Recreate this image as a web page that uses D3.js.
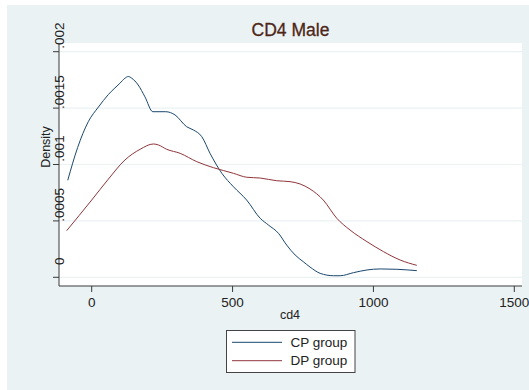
<!DOCTYPE html>
<html>
<head>
<meta charset="utf-8">
<script src="https://cdn.jsdelivr.net/npm/d3@7"></script>
<style>
  body { margin: 0; background: #fff; }
  svg text { font-family: Arial, "Liberation Sans", sans-serif; }
</style>
</head>
<body>
<div id="chart"></div>
<script>
// CD4 density
var cd4Cp = [-85, -50, -12, 24, 59, 100, 118, 130, 142, 165, 189, 217, 263, 296, 337, 361, 391, 420, 462, 503, 550, 598, 627, 663, 692, 722, 751, 775, 811, 858, 882, 929, 977, 1024, 1083, 1154];
var densCp = [0.00086, 0.00115, 0.00138, 0.00151, 0.00162, 0.00172, 0.001765, 0.00178, 0.001765, 0.001705, 0.0016, 0.001468, 0.001468, 0.001439, 0.001335, 0.001306, 0.001246, 0.001099, 0.000922, 0.000803, 0.000685, 0.000523, 0.000464, 0.00039, 0.000286, 0.000198, 0.000138, 0.000091, 0.000035, 0.000014, 0.000014, 0.000041, 0.000065, 0.000074, 0.000071, 0.000059];

var cd4Dp = [-89, 0, 59, 118, 172, 219, 237, 266, 314, 373, 432, 503, 550, 598, 657, 704, 740, 775, 822, 870, 917, 977, 1036, 1095, 1154];
var densDp = [0.000413, 0.000685, 0.00087, 0.00104, 0.001135, 0.001182, 0.001173, 0.001135, 0.001099, 0.001025, 0.000972, 0.000922, 0.000887, 0.00088, 0.000856, 0.000848, 0.000827, 0.000783, 0.000685, 0.000523, 0.000419, 0.000316, 0.000227, 0.000153, 0.000106];

var xTicks = [0, 500, 1000, 1500];
var yTicks = [0, 0.0005, 0.001, 0.0015, 0.002];
var yTickLabels = ["0", ".0005", ".001", ".0015", ".002"];
var seriesNames = ["CP group", "DP group"];

var width = 529, height = 390;
var colors = ["#1a476f", "#90353b"];

var svg = d3.select("#chart").append("svg")
    .attr("width", width)
    .attr("height", height);

// outer background
svg.append("rect")
    .attr("x", 7).attr("y", 5)
    .attr("width", width - 7).attr("height", height - 5)
    .attr("fill", "#eaf2f3");

// plot region
var plot = { left: 59, right: 522, top: 43, bottom: 286 };
svg.append("rect")
    .attr("x", plot.left).attr("y", plot.top)
    .attr("width", plot.right - plot.left).attr("height", plot.bottom - plot.top)
    .attr("fill", "#fff");

var x = d3.scaleLinear().domain([0, 1500]).range([91.7, 514.3]);
var y = d3.scaleLinear().domain([0, 0.002]).range([277.3, 51.7]);

// grid
svg.append("g").selectAll("line")
    .data(yTicks)
  .enter().append("line")
    .attr("x1", plot.left).attr("x2", plot.right)
    .attr("y1", function(d) { return y(d); })
    .attr("y2", function(d) { return y(d); })
    .attr("stroke", "#eaf2f3")
    .attr("stroke-width", 1.2);

// lines
var line = d3.line()
    .x(function(d) { return x(d[0]); })
    .y(function(d) { return y(d[1]); })
    .curve(d3.curveMonotoneX);

var series = [d3.zip(cd4Cp, densCp), d3.zip(cd4Dp, densDp)];
svg.append("g").selectAll("path")
    .data(series)
  .enter().append("path")
    .attr("d", line)
    .attr("fill", "none")
    .attr("stroke", function(d, i) { return colors[i]; })
    .attr("stroke-width", 1);

// axes
var axisColor = "#3a3a3a";
svg.append("line")
    .attr("x1", plot.left).attr("x2", plot.left)
    .attr("y1", plot.top).attr("y2", plot.bottom)
    .attr("stroke", axisColor);
svg.append("line")
    .attr("x1", plot.left).attr("x2", plot.right)
    .attr("y1", plot.bottom).attr("y2", plot.bottom)
    .attr("stroke", axisColor);

// y ticks
svg.append("g").selectAll("line")
    .data(yTicks)
  .enter().append("line")
    .attr("x1", plot.left - 6).attr("x2", plot.left)
    .attr("y1", function(d) { return y(d); })
    .attr("y2", function(d) { return y(d); })
    .attr("stroke", axisColor);

svg.append("g").selectAll("text")
    .data(yTicks)
  .enter().append("text")
    .attr("transform", function(d) { return "translate(63.5," + (y(d) - 16) + ") rotate(-90)"; })
    .attr("text-anchor", "middle")
    .attr("font-size", "13.5px")
    .attr("fill", "#222")
    .text(function(d, i) { return yTickLabels[i]; });

// x ticks
svg.append("g").selectAll("line")
    .data(xTicks)
  .enter().append("line")
    .attr("x1", function(d) { return x(d); })
    .attr("x2", function(d) { return x(d); })
    .attr("y1", plot.bottom).attr("y2", plot.bottom + 6)
    .attr("stroke", axisColor);

svg.append("g").selectAll("text")
    .data(xTicks)
  .enter().append("text")
    .attr("x", function(d) { return x(d); })
    .attr("y", 306.5)
    .attr("text-anchor", "middle")
    .attr("font-size", "13.5px")
    .attr("fill", "#222")
    .text(function(d) { return d; });

// titles
svg.append("text")
    .attr("x", 290.5).attr("y", 36)
    .attr("text-anchor", "middle")
    .attr("font-size", "17.5px")
    .attr("fill", "#4e2617")
    .attr("stroke", "#4e2617")
    .attr("stroke-width", 0.3)
    .text("CD4 Male");

svg.append("text")
    .attr("x", 290).attr("y", 318.5)
    .attr("text-anchor", "middle")
    .attr("font-size", "12.5px")
    .attr("fill", "#222")
    .text("cd4");

svg.append("text")
    .attr("transform", "translate(49.5,147) rotate(-90)")
    .attr("text-anchor", "middle")
    .attr("font-size", "12.5px")
    .attr("fill", "#222")
    .text("Density");

// legend
var legend = svg.append("g");
legend.append("rect")
    .attr("x", 226.5).attr("y", 330.5)
    .attr("width", 128.5).attr("height", 42)
    .attr("fill", "#fff")
    .attr("stroke", "#444");

var items = legend.selectAll("g.item")
    .data(seriesNames)
  .enter().append("g")
    .attr("class", "item")
    .attr("transform", function(d, i) { return "translate(0," + (342.3 + i * 18.4) + ")"; });

items.append("line")
    .attr("x1", 232).attr("x2", 282)
    .attr("stroke", function(d, i) { return colors[i]; });

items.append("text")
    .attr("x", 290.5).attr("dy", "0.35em")
    .attr("font-size", "13.5px")
    .attr("fill", "#222")
    .text(function(d) { return d; });
</script>
</body>
</html>
